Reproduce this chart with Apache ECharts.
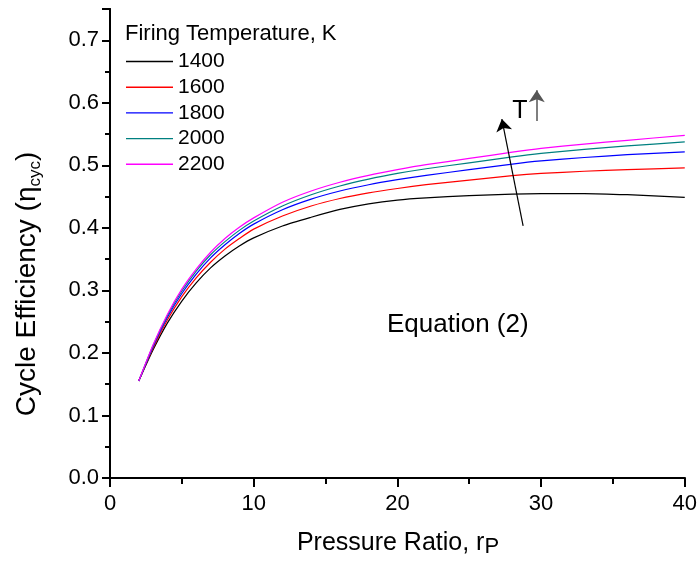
<!DOCTYPE html>
<html>
<head>
<meta charset="utf-8">
<script src="https://cdn.jsdelivr.net/npm/echarts@6/dist/echarts.min.js"></script>
<style>
  html, body { margin: 0; padding: 0; background: #fff; }
  #chart { width: 700px; height: 561px; }
</style>
</head>
<body>
<div id="chart"></div>
<script>
// pressure ratio r_P
const pressureRatio = [2, 3, 4, 5, 6, 7, 8, 9, 10, 12, 14, 16, 18, 20, 22, 25, 28, 30, 33, 36, 40];

// cycle efficiency for each firing temperature (K)
const eff1400 = [0.155, 0.205, 0.248, 0.283, 0.312, 0.336, 0.355, 0.371, 0.384, 0.403, 0.417, 0.4295, 0.4385, 0.4445, 0.448, 0.4515, 0.4538, 0.4547, 0.4549, 0.4530, 0.4487];
const eff1600 = [0.155, 0.208, 0.253, 0.290, 0.320, 0.345, 0.366, 0.383, 0.398, 0.419, 0.435, 0.447, 0.456, 0.463, 0.469, 0.4765, 0.4835, 0.487, 0.4905, 0.493, 0.496];
const eff1800 = [0.155, 0.210, 0.257, 0.295, 0.326, 0.352, 0.373, 0.391, 0.406, 0.429, 0.446, 0.459, 0.469, 0.477, 0.484, 0.493, 0.502, 0.507, 0.5125, 0.517, 0.5215];
const eff2000 = [0.155, 0.212, 0.260, 0.299, 0.331, 0.357, 0.378, 0.396, 0.411, 0.435, 0.453, 0.467, 0.478, 0.487, 0.4945, 0.504, 0.5135, 0.519, 0.5255, 0.531, 0.5375];
const eff2200 = [0.155, 0.213, 0.262, 0.302, 0.334, 0.361, 0.383, 0.401, 0.416, 0.441, 0.459, 0.473, 0.484, 0.493, 0.501, 0.511, 0.521, 0.527, 0.534, 0.540, 0.548];

const temps = ['1400', '1600', '1800', '2000', '2200'];
const effs = [eff1400, eff1600, eff1800, eff2000, eff2200];
const colors = ['#000000', '#ff0000', '#0000ff', '#008080', '#ff00ff'];

const xTicks = [0, 10, 20, 30, 40];
const yTicks = [0, 0.1, 0.2, 0.3, 0.4, 0.5, 0.6, 0.7];

const font = "'Liberation Sans', Arial, sans-serif";

const chart = echarts.init(document.getElementById('chart'));

const axisLine = { show: true, lineStyle: { color: '#000', width: 2 } };

const series = temps.map((t, k) => ({
  name: t,
  type: 'line',
  symbol: 'none',
  smooth: 0.25,
  lineStyle: { color: colors[k], width: 1.2 },
  itemStyle: { color: colors[k] },
  data: pressureRatio.map((x, i) => [x, effs[k][i]]),
}));

// arrows ("T increases")
series[0].markLine = {
  silent: true,
  animation: false,
  symbol: ['none', 'arrow'],
  symbolSize: 12,
  label: { show: false },
  lineStyle: { color: '#000', width: 1.2, type: 'solid' },
  data: [
    [{ coord: [28.75, 0.403] }, { coord: [27.27, 0.574] }],
    [{ coord: [29.7, 0.571], lineStyle: { color: '#555', width: 1.5, type: 'solid' } }, { coord: [29.7, 0.62] }],
  ],
};

const option = {
  animation: false,
  backgroundColor: '#fff',
  grid: { left: 110, right: 14, top: 9, bottom: 83, containLabel: false },
  title: {
    text: 'Firing Temperature, K',
    left: 125,
    top: 23,
    padding: 0,
    textStyle: { fontFamily: font, fontSize: 22, fontWeight: 'normal', color: '#000' },
  },
  legend: {
    orient: 'vertical',
    left: 126,
    top: 51,
    padding: 0,
    icon: 'rect',
    itemWidth: 47,
    itemHeight: 1.4,
    itemGap: 4.7,
    textStyle: { fontFamily: font, fontSize: 21, color: '#000' },
    data: temps,
  },
  xAxis: [
    {
      type: 'value', min: 0, max: 40, interval: 10,
      axisLine,
      axisTick: { show: true, length: 9, lineStyle: { width: 2, color: '#000' } },
      minorTick: { show: true, splitNumber: 2, length: 5, lineStyle: { width: 2, color: '#000' } },
      axisLabel: {
        margin: 15, fontFamily: font, fontSize: 22, color: '#000',
        formatter: v => (xTicks.includes(v) ? String(v) : ''),
      },
      splitLine: { show: false },
    },
    {
      type: 'value', min: 0, max: 40, interval: 10, position: 'top',
      axisLine,
      axisTick: { show: true, inside: true, length: 6, lineStyle: { width: 2, color: '#000' } },
      minorTick: { show: true, splitNumber: 2, length: 6, lineStyle: { width: 2, color: '#000' } },
      axisLabel: { show: false },
      splitLine: { show: false },
    },
  ],
  yAxis: [
    {
      type: 'value', min: 0, max: 0.75, interval: 0.1,
      axisLine,
      axisTick: { show: true, length: 8, lineStyle: { width: 2, color: '#000' } },
      minorTick: { show: true, splitNumber: 2, length: 5, lineStyle: { width: 2, color: '#000' } },
      axisLabel: {
        margin: 11, fontFamily: font, fontSize: 22, color: '#000',
        formatter: v => {
          const t = yTicks.find(y => Math.abs(y - v) < 1e-6);
          return t === undefined ? '' : t.toFixed(1);
        },
      },
      splitLine: { show: false },
    },
    {
      type: 'value', min: 0, max: 0.75, interval: 0.1, position: 'right',
      axisLine,
      axisTick: { show: true, inside: true, length: 5, lineStyle: { width: 2, color: '#000' } },
      minorTick: { show: true, splitNumber: 2, length: 5, lineStyle: { width: 2, color: '#000' } },
      axisLabel: { show: false },
      splitLine: { show: false },
    },
  ],
  graphic: [
    {
      type: 'text', left: 387, top: 312,
      style: { text: 'Equation (2)', font: `26px ${font}`, fill: '#000' },
    },
    {
      type: 'text', x: 520, y: 111,
      style: { text: 'T', font: `25px ${font}`, fill: '#000', align: 'center', verticalAlign: 'middle' },
    },
    {
      type: 'text', x: 398, y: 543,
      style: {
        text: '{a|Pressure Ratio, r}{s|P}',
        align: 'center', verticalAlign: 'middle',
        rich: {
          a: { fontFamily: font, fontSize: 25, lineHeight: 30, color: '#000' },
          s: { fontFamily: font, fontSize: 22, lineHeight: 18, verticalAlign: 'bottom', color: '#000' },
        },
      },
    },
    {
      type: 'text', x: 27, y: 284, rotation: Math.PI / 2,
      style: {
        text: '{a|Cycle Efficiency (η}{s|cyc}{a|)}',
        align: 'center', verticalAlign: 'middle',
        rich: {
          a: { fontFamily: font, fontSize: 28, lineHeight: 34, color: '#000' },
          s: { fontFamily: font, fontSize: 17, lineHeight: 16, verticalAlign: 'bottom', color: '#000' },
        },
      },
    },
  ],
  series,
};

chart.setOption(option);
</script>
</body>
</html>
